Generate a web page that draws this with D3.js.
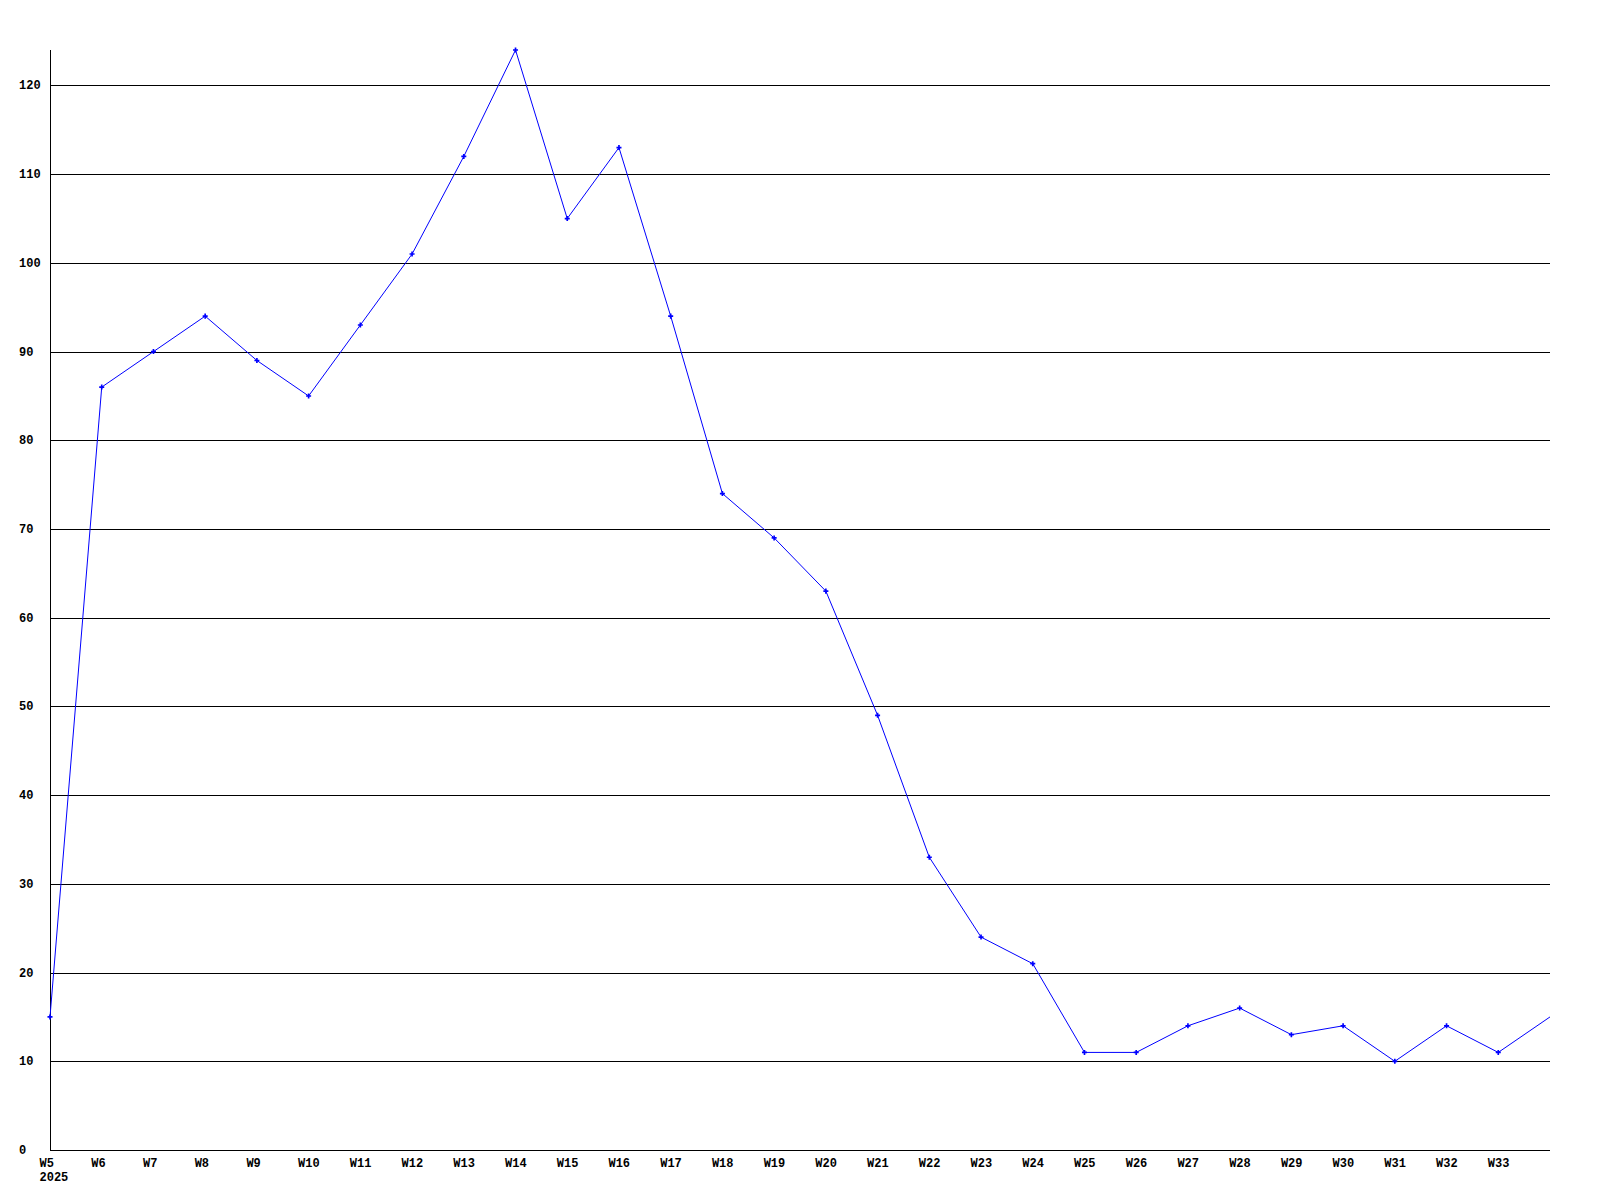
<!DOCTYPE html>
<html>
<head>
<meta charset="utf-8">
<script src="https://cdn.jsdelivr.net/npm/d3@7"></script>
<style>
  html, body { margin: 0; padding: 0; background: #fff; }
  svg { display: block; }
  text { font-family: "Liberation Mono", "DejaVu Sans Mono", monospace; font-weight: bold; font-size: 12px; fill: #000; }
</style>
</head>
<body>
<svg id="chart" width="1600" height="1200"></svg>
<script>
const weeks = ["W5","W6","W7","W8","W9","W10","W11","W12","W13","W14","W15","W16","W17","W18","W19","W20","W21","W22","W23","W24","W25","W26","W27","W28","W29","W30","W31","W32","W33","W34"];
const values = [15,86,90,94,89,85,93,101,112,124,105,113,94,74,69,63,49,33,24,21,11,11,14,16,13,14,10,14,11,15];
const yTicks = [0,10,20,30,40,50,60,70,80,90,100,110,120];
const xLabelWeeks = weeks.slice(0, 29); // last point has no label
const yearLabel = "2025";

(function () {
const svg = d3.select("#chart");
const mLeft = 50, mRight = 1550, mTop = 50, mBottom = 1150;

const x = d3.scalePoint().domain(weeks).range([mLeft, mRight]);
const y = d3.scaleLinear().domain([0, d3.max(values)]).range([mBottom, mTop]);

// gridlines
svg.append("g").selectAll("line").data(yTicks.filter(d => d > 0)).join("line")
  .attr("x1", mLeft).attr("x2", mRight)
  .attr("y1", d => Math.round(y(d)) + 0.5).attr("y2", d => Math.round(y(d)) + 0.5)
  .attr("stroke", "#000").attr("stroke-width", 1).attr("shape-rendering", "crispEdges");

// axes lines
svg.append("line").attr("x1", mLeft + 0.5).attr("x2", mLeft + 0.5).attr("y1", mTop).attr("y2", mBottom + 1)
  .attr("stroke", "#000").attr("shape-rendering", "crispEdges");
svg.append("line").attr("x1", mLeft).attr("x2", mRight).attr("y1", mBottom + 0.5).attr("y2", mBottom + 0.5)
  .attr("stroke", "#000").attr("shape-rendering", "crispEdges");

// y labels
svg.append("g").selectAll("text").data(yTicks).join("text")
  .attr("x", 19).attr("y", d => y(d) + 4)
  .attr("text-anchor", "start")
  .text(d => d);

// x labels
svg.append("g").selectAll("text").data(xLabelWeeks).join("text")
  .attr("x", d => x(d) - 10.5).attr("y", 1167)
  .attr("text-anchor", "start")
  .text(d => d);
svg.append("text").attr("x", x(weeks[0]) - 10.5).attr("y", 1181).text(yearLabel);

// line
const line = d3.line().x((d, i) => x(weeks[i])).y(d => y(d));
svg.append("path").datum(values).attr("d", line)
  .attr("fill", "none").attr("stroke", "#0000ff").attr("stroke-width", 1);

// markers
svg.append("g").selectAll("path").data(values.slice(0, values.length - 1)).join("path")
  .attr("transform", (d, i) => `translate(${x(weeks[i])},${y(d)})`)
  .attr("d", d3.symbol(d3.symbolCross, 14))
  .attr("fill", "#0000ff");
})();
</script>
</body>
</html>
